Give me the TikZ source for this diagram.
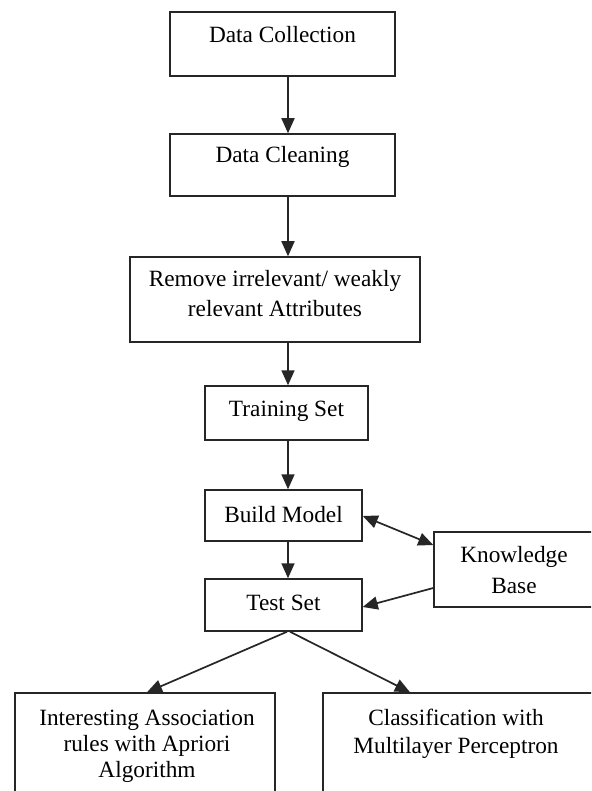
\documentclass[tikz,border=0pt]{standalone}
\usepackage{fontspec}
\setmainfont{Liberation Serif}
\usetikzlibrary{arrows.meta}
\begin{document}
\begin{tikzpicture}[x=1pt,y=-1pt,
  box/.style={draw=black!85,line width=1.5pt,inner sep=0pt},
  lbl/.style={font=\fontsize{23.3}{29}\selectfont,align=center,inner sep=0pt},
  arr/.style={draw=black!85,line width=1.7pt,-{Triangle[length=15pt,width=13pt]}},
  darr/.style={draw=black!85,line width=1.7pt,{Triangle[length=15pt,width=13pt]}-{Triangle[length=15pt,width=13pt]}}]
\useasboundingbox (0,0) rectangle (591,791);
\clip (0,0) rectangle (591,791);
\fill[white] (0,0) rectangle (591,791);
% boxes
\node[box,minimum width=225pt,minimum height=64pt] (dc) at (282.5,44) {};
\node[box,minimum width=225pt,minimum height=62pt] (cl) at (282.5,165) {};
\node[box,minimum width=290pt,minimum height=85pt] (rm) at (275,299.5) {};
\node[box,minimum width=163pt,minimum height=54pt] (tr) at (286.5,413) {};
\node[box,minimum width=157pt,minimum height=51pt] (bm) at (283.5,515.5) {};
\node[box,minimum width=157pt,minimum height=52pt] (ts) at (283.5,605) {};
\node[box,minimum width=160pt,minimum height=75pt] (kb) at (514,569.5) {};
\node[box,minimum width=260pt,minimum height=130pt] (ia) at (145,758) {};
\node[box,minimum width=270pt,minimum height=130pt] (cm) at (458,758) {};
% texts
\node[lbl] (tdc) at (282.5,35) {Data Collection};
\node[lbl] (tcl) at (282.5,157) {Data Cleaning};
\node[lbl,font=\fontsize{23.3}{30}\selectfont] (trm) at (275,294) {Remove irrelevant/ weakly\\relevant Attributes};
\node[lbl] (ttr) at (286.5,411) {Training Set};
\node[lbl] (tbm) at (283.5,515) {Build Model};
\node[lbl] (tts) at (283.5,603) {Test Set};
\node[lbl,font=\fontsize{23.3}{31}\selectfont] (tkb) at (514,570) {Knowledge\\Base};
\node[lbl,font=\fontsize{23.3}{26}\selectfont] (tia) at (147,746) {Interesting Association\\rules with Apriori\\Algorithm};
\node[lbl,font=\fontsize{23.3}{28}\selectfont] (tcm) at (456,734) {Classification with\\Multilayer Perceptron};
% connectors
\draw[arr] (dc.south -| 288,0) -- (cl.north -| 288,0);
\draw[arr] (cl.south -| 288,0) -- (rm.north -| 288,0);
\draw[arr] (rm.south -| 288,0) -- (tr.north -| 288,0);
\draw[arr] (tr.south -| 288,0) -- (bm.north -| 288,0);
\draw[arr] (bm.south -| 288,0) -- (ts.north -| 288,0);
\draw[darr] (bm.east |- 0,516) -- (kb.west |- 0,545);
\draw[arr] (kb.west |- 0,588) -- (ts.east |- 0,607);
\draw[arr] (ts.south -| 287,0) -- (ia.north -| 147,0);
\draw[arr] (ts.south -| 290,0) -- (cm.north -| 410,0);
\end{tikzpicture}
\end{document}
